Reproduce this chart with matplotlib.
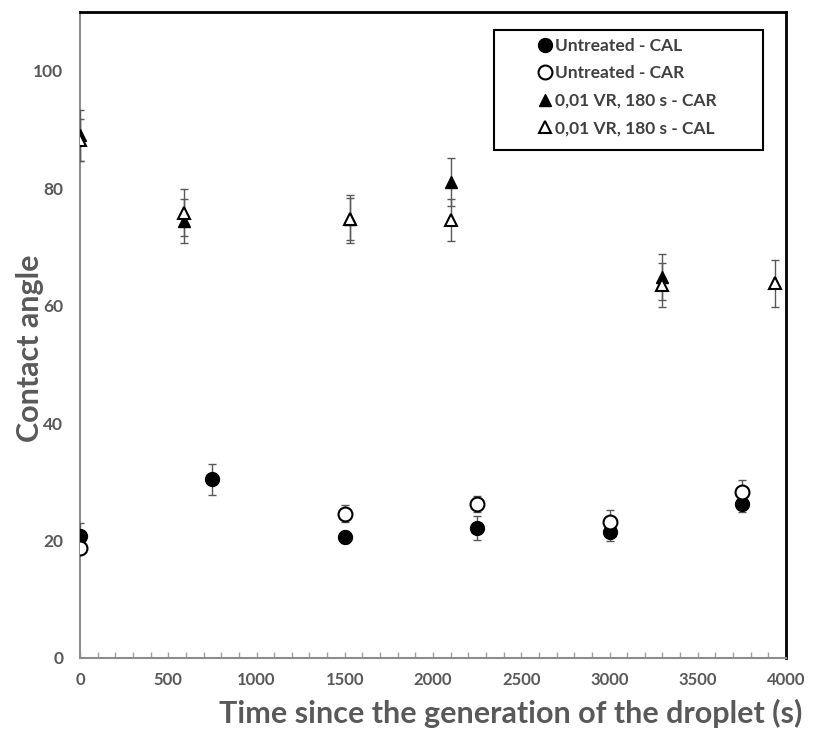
import matplotlib
matplotlib.use("Agg")
import matplotlib.pyplot as plt
from matplotlib.ticker import MultipleLocator
from matplotlib.lines import Line2D
from matplotlib.patches import Rectangle

plt.rcParams['font.family'] = ['Lato', 'DejaVu Sans']

# Untreated - CAL (filled circles)
ucal_x = [0, 750, 1500, 2250, 3000, 3750]
ucal_y = [20.8, 30.4, 20.6, 22.1, 21.5, 26.2]
ucal_e = [2.2, 2.6, 1.0, 2.0, 1.6, 1.3]
# Untreated - CAR (open circles)
ucar_x = [0, 1500, 2250, 3000, 3750]
ucar_y = [18.7, 24.6, 26.2, 23.2, 28.2]
ucar_e = [1.0, 1.4, 1.4, 2.0, 2.1]
# 0,01 VR, 180 s - CAR (filled triangles)
tcar_x = [0, 590, 1530, 2100, 3300]
tcar_y = [89.0, 74.4, 74.8, 81.1, 64.9]
tcar_e = [4.3, 3.7, 3.6, 4.1, 3.9]
# 0,01 VR, 180 s - CAL (open triangles)
tcal_x = [0, 590, 1530, 2100, 3300, 3940]
tcal_y = [88.2, 75.8, 74.8, 74.6, 63.5, 63.8]
tcal_e = [3.5, 4.0, 4.1, 3.6, 3.8, 4.0]

labels = ['Untreated - CAL', 'Untreated - CAR', '0,01 VR, 180 s - CAR', '0,01 VR, 180 s - CAL']

fig = plt.figure(figsize=(8.14, 7.34), dpi=100)
ax = fig.add_axes([80/814, 76/734, 706/814, 646/734])

ecol = '#595959'
ekw = dict(ecolor=ecol, elinewidth=1.0, capsize=3, capthick=1.0, linestyle='none', zorder=3)

styles = [
    dict(marker='o', ms=10, mfc='black', mec='black', mew=1.0),
    dict(marker='o', ms=10, mfc='white', mec='black', mew=1.5),
    dict(marker='^', ms=9, mfc='black', mec='black', mew=1.0),
    dict(marker='^', ms=9, mfc='white', mec='black', mew=1.5),
]
series = [(ucal_x, ucal_y, ucal_e), (ucar_x, ucar_y, ucar_e),
          (tcar_x, tcar_y, tcar_e), (tcal_x, tcal_y, tcal_e)]
for (xs, ys, es), st in zip(series, styles):
    ax.errorbar(xs, ys, yerr=es, fmt='none', **ekw)
    ax.plot(xs, ys, linestyle='none', zorder=4, **st)

ax.set_xlim(0, 4000)
ax.set_ylim(0, 110)
ax.set_xticks([0, 500, 1000, 1500, 2000, 2500, 3000, 3500, 4000])
ax.set_yticks([0, 20, 40, 60, 80, 100])
ax.xaxis.set_minor_locator(MultipleLocator(100))
ax.tick_params(axis='x', which='both', direction='in', length=4, width=1, color='#a0a0a0',
               labelsize=12, labelcolor='#595959', pad=10)
ax.tick_params(axis='y', which='both', length=0, labelsize=12.5, labelcolor='#595959', pad=12)
for lbl in ax.get_xticklabels() + ax.get_yticklabels():
    lbl.set_fontweight('bold')

ax.spines['left'].set_color('#8c8c8c')
ax.spines['left'].set_linewidth(1.5)
ax.spines['bottom'].set_color('#8c8c8c')
ax.spines['bottom'].set_linewidth(1.5)
ax.spines['top'].set_color('black')
ax.spines['top'].set_linewidth(2)
ax.spines['right'].set_color('black')
ax.spines['right'].set_linewidth(2)

ax.set_ylabel('Contact angle', fontsize=22, fontweight='bold', color='#595959')
ax.yaxis.set_label_coords(-(80 - 30) / 706, 0.48)
ax.set_xlabel('Time since the generation of the droplet (s)', fontsize=22, fontweight='bold',
              color='#595959', ha='right')
ax.xaxis.set_label_coords((802 - 80) / 706, -(713 - 658) / 646)
ax.xaxis.label.set_va('center')
ax.yaxis.label.set_va('center')

# legend box (Excel-style, wide padding)
box = Rectangle(((494 - 80) / 706, 1 - (150 - 12) / 646), (763 - 494) / 706, (150 - 30) / 646,
                transform=ax.transAxes, facecolor='white', edgecolor='black', lw=1.5, zorder=5)
ax.add_patch(box)
handles = [Line2D([], [], linestyle='none', **st) for st in styles]
leg = ax.legend(handles, labels, loc='upper left',
                bbox_to_anchor=((522 - 80) / 706, 1 - (24 - 12) / 646), frameon=False,
                handletextpad=0.1, borderpad=0.3, labelspacing=0.66, handlelength=1.0,
                prop={'size': 12.5, 'weight': 'bold'})
leg.set_zorder(6)
for t in leg.get_texts():
    t.set_color('#404040')

fig.savefig('out.png', dpi=100)
